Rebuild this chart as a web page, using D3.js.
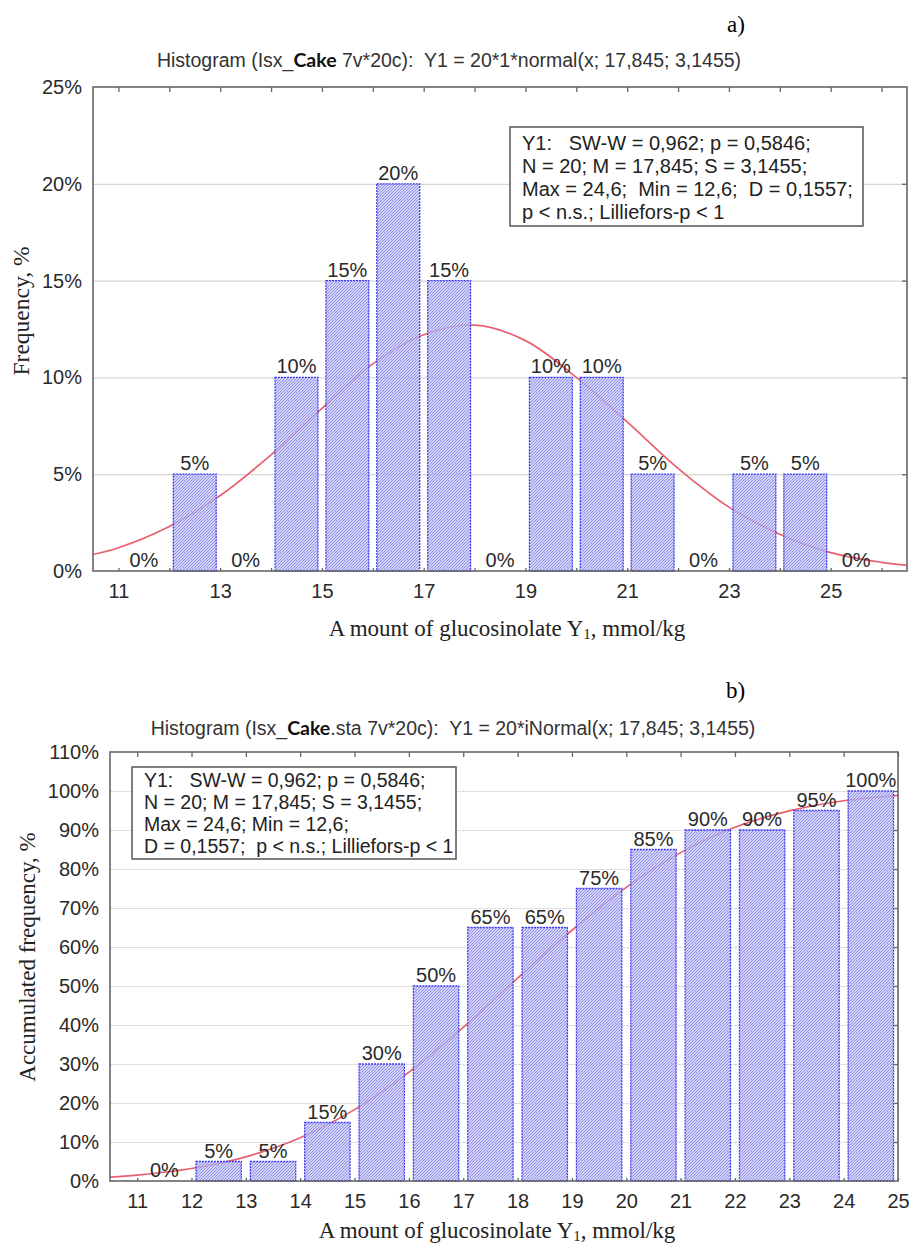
<!DOCTYPE html>
<html>
<head>
<meta charset="utf-8">
<script src="https://cdnjs.cloudflare.com/ajax/libs/d3/7.8.5/d3.min.js"></script>
<style>
body { margin: 0; background: #fff; }
svg { display: block; }
</style>
</head>
<body>
<div id="chart"></div>
<script>
// panel a: frequency per bin
var binStartsA = [11, 12, 13, 14, 15, 16, 17, 18, 19, 20, 21, 22, 23, 24, 25];
var freqA = [0, 5, 0, 10, 15, 20, 15, 0, 10, 10, 5, 0, 5, 5, 0];
var curveXA = [10.5, 11, 12, 13, 14, 15, 16, 17, 18, 19, 20, 21, 22, 23, 24, 25, 26, 26.5];
var curveYA = [0.85, 1.2, 2.3, 3.9, 6.0, 8.4, 10.7, 12.2, 12.7, 11.9, 10.0, 7.7, 5.3, 3.3, 1.9, 0.95, 0.45, 0.3];
var yTicksA = [0, 5, 10, 15, 20, 25];
var xLabelsA = [11, 13, 15, 17, 19, 21, 23, 25];
var xMinorA = [11, 12, 13, 14, 15, 16, 17, 18, 19, 20, 21, 22, 23, 24, 25, 26];
var titleA = ["Histogram (Isx_", "Cake", " 7v*20c):  Y1 = 20*1*normal(x; 17,845; 3,1455)"];
var legendA = ["Y1:   SW-W = 0,962; p = 0,5846;",
               "N = 20; M = 17,845; S = 3,1455;",
               "Max = 24,6;  Min = 12,6;  D = 0,1557;",
               "p < n.s.; Lilliefors-p < 1"];

// panel b: accumulated frequency
var binStartsB = [11, 12, 13, 14, 15, 16, 17, 18, 19, 20, 21, 22, 23, 24];
var cumB = [0, 5, 5, 15, 30, 50, 65, 65, 75, 85, 90, 90, 95, 100];
var curveXB = [10.5, 11, 12, 13, 14, 15, 16, 17, 18, 19, 20, 21, 22, 23, 24, 25];
var curveYB = [1.0, 1.5, 3.2, 6.2, 11.1, 18.3, 27.9, 39.4, 52.0, 64.3, 75.3, 84.2, 90.7, 94.9, 97.5, 98.9];
var yTicksB = [0, 10, 20, 30, 40, 50, 60, 70, 80, 90, 100, 110];
var xLabelsB = [11, 12, 13, 14, 15, 16, 17, 18, 19, 20, 21, 22, 23, 24, 25];
var titleB = ["Histogram (Isx_", "Cake", ".sta 7v*20c):  Y1 = 20*iNormal(x; 17,845; 3,1455)"];
var legendB = ["Y1:   SW-W = 0,962; p = 0,5846;",
               "N = 20; M = 17,845; S = 3,1455;",
               "Max = 24,6; Min = 12,6;",
               "D = 0,1557;  p < n.s.; Lilliefors-p < 1"];

var W = 909, H = 1246;
var sans = "'Liberation Sans', Arial, sans-serif";
var serif = "'Liberation Serif', 'Times New Roman', serif";

var svg = d3.select("#chart").append("svg")
    .attr("width", W)
    .attr("height", H)
    .attr("viewBox", "0 0 " + W + " " + H);

// hatched fill used by all bars (slightly see-through so the curve shows)
var defs = svg.append("defs");
var pat = defs.append("pattern")
    .attr("id", "hatch")
    .attr("patternUnits", "userSpaceOnUse")
    .attr("width", 3)
    .attr("height", 3);
pat.append("rect").attr("width", 3).attr("height", 3)
    .attr("fill", "#c2c2f8").attr("fill-opacity", 0.72);
pat.append("path")
    .attr("d", "M-1,1 L1,-1 M0,3 L3,0 M2,4 L4,2")
    .attr("stroke", "#8a8ae4")
    .attr("stroke-width", 0.9);

function drawPanel(cfg) {
    var x = d3.scaleLinear().domain(cfg.xDomain).range([cfg.left, cfg.right]);
    var y = d3.scaleLinear().domain(cfg.yDomain).range([cfg.bottom, cfg.top]);
    var w = cfg.right - cfg.left;
    var g = svg.append("g").attr("class", "panel");

    var clipId = "clip" + cfg.id;
    defs.append("clipPath").attr("id", clipId)
      .append("rect")
      .attr("x", cfg.left).attr("y", cfg.top)
      .attr("width", w).attr("height", cfg.bottom - cfg.top);

    // grid lines
    var grid = g.append("g")
        .attr("transform", "translate(" + cfg.left + ",0)")
        .call(d3.axisLeft(y).tickValues(cfg.yTicks.slice(1, -1)).tickSize(-w).tickFormat(""));
    grid.select(".domain").remove();
    grid.selectAll("line")
        .attr("stroke", "#d6d6d6")
        .attr("stroke-width", 1.2)
        .attr("stroke-dasharray", cfg.gridDash);

    var bins = cfg.binStarts.map(function(lo, i){ return {lo: lo, v: cfg.values[i]}; });

    // fitted curve, under the bars
    var line = d3.line()
        .x(function(d){ return x(d[0]); })
        .y(function(d){ return y(d[1]); })
        .curve(d3.curveCatmullRom);
    g.append("path")
        .datum(d3.zip(cfg.curveX, cfg.curveY))
        .attr("clip-path", "url(#" + clipId + ")")
        .attr("d", line)
        .attr("fill", "none")
        .attr("stroke", "#e8606e")
        .attr("stroke-width", 1.7);

    // bars
    g.append("g").selectAll("rect")
      .data(bins.filter(function(d){ return d.v > 0; }))
      .join("rect")
        .attr("x", function(d){ return x(d.lo) + cfg.inset; })
        .attr("width", function(d){ return x(d.lo + 1) - x(d.lo) - 2 * cfg.inset; })
        .attr("y", function(d){ return y(d.v); })
        .attr("height", function(d){ return y(0) - y(d.v); })
        .attr("fill", "url(#hatch)")
        .attr("stroke", "#3d3df2")
        .attr("stroke-width", 1.3)
        .attr("stroke-dasharray", "2,1");

    // value labels
    g.append("g").selectAll("text")
      .data(bins)
      .join("text")
        .attr("x", function(d){ return x(d.lo + 0.5); })
        .attr("y", function(d){ return y(d.v) - 4; })
        .attr("text-anchor", "middle")
        .attr("font-family", sans)
        .attr("font-size", cfg.labelSize)
        .attr("fill", "#2a2a2a")
        .text(function(d){ return d.v + "%"; });

    // frame
    g.append("rect")
        .attr("x", cfg.left).attr("y", cfg.top)
        .attr("width", w).attr("height", cfg.bottom - cfg.top)
        .attr("fill", "none")
        .attr("stroke", "#666")
        .attr("stroke-width", 1.6);

    // inner tick marks
    var topT = g.append("g").attr("transform", "translate(0," + cfg.top + ")")
        .call(d3.axisTop(x).tickValues(cfg.xMinor).tickSize(-5).tickFormat(""));
    var botT = g.append("g").attr("transform", "translate(0," + cfg.bottom + ")")
        .call(d3.axisBottom(x).tickValues(cfg.xMinor).tickSize(-3).tickFormat(""));
    var rightT = g.append("g").attr("transform", "translate(" + cfg.right + ",0)")
        .call(d3.axisRight(y).tickValues(cfg.yTicks.slice(1, -1)).tickSize(-5).tickFormat(""));
    [topT, botT, rightT].forEach(function(a){
        a.select(".domain").remove();
        a.selectAll("line").attr("stroke", "#666").attr("stroke-width", 1.3);
    });

    // tick labels
    var yAx = g.append("g").attr("transform", "translate(" + cfg.left + ",0)")
        .call(d3.axisLeft(y).tickValues(cfg.yTicks).tickSize(0).tickPadding(11)
              .tickFormat(function(d){ return d + "%"; }));
    var xAx = g.append("g").attr("transform", "translate(0," + cfg.bottom + ")")
        .call(d3.axisBottom(x).tickValues(cfg.xLabels).tickSize(0).tickPadding(13));
    [yAx, xAx].forEach(function(a){
        a.select(".domain").remove();
        a.attr("font-family", sans).attr("font-size", cfg.tickSize);
        a.selectAll("text").attr("fill", "#2a2a2a");
    });

    // title
    var t = g.append("text")
        .attr("x", cfg.titleX).attr("y", cfg.titleY)
        .attr("text-anchor", "middle")
        .attr("font-family", sans)
        .attr("font-size", 19.5)
        .attr("fill", "#333")
        .style("white-space", "pre");
    t.append("tspan").text(cfg.title[0]);
    t.append("tspan").attr("font-family", "Lato, 'Open Sans', sans-serif")
        .attr("font-weight", 700).attr("fill", "#111").text(cfg.title[1]);
    t.append("tspan").text(cfg.title[2]);

    // panel letter
    g.append("text")
        .attr("x", cfg.letterX).attr("y", cfg.letterY)
        .attr("font-family", serif)
        .attr("font-size", 23)
        .attr("fill", "#000")
        .text(cfg.letter);

    // stats box
    var box = cfg.legendBox;
    g.append("rect")
        .attr("x", box[0]).attr("y", box[1])
        .attr("width", box[2]).attr("height", box[3])
        .attr("fill", "#fff")
        .attr("stroke", "#555")
        .attr("stroke-width", 1.5);
    g.append("g").selectAll("text")
      .data(cfg.legend)
      .join("text")
        .attr("x", box[0] + 12)
        .attr("y", function(d, i){ return box[1] + cfg.legendFirst + i * cfg.legendStep; })
        .attr("font-family", sans)
        .attr("font-size", cfg.legendSize)
        .attr("fill", "#222")
        .style("white-space", "pre")
        .text(function(d){ return d; });

    // axis titles
    var xt = g.append("text")
        .attr("x", cfg.xTitleX).attr("y", cfg.xTitleY)
        .attr("text-anchor", "middle")
        .attr("font-family", serif)
        .attr("font-size", 23)
        .attr("fill", "#222");
    xt.append("tspan").text("A mount of glucosinolate Y");
    xt.append("tspan").attr("font-size", 15).attr("dy", 3).text("1");
    xt.append("tspan").attr("dy", -3).text(", mmol/kg");

    g.append("text")
        .attr("transform", "translate(" + cfg.yTitleX + "," + cfg.yTitleY + ") rotate(-90)")
        .attr("text-anchor", "middle")
        .attr("font-family", serif)
        .attr("font-size", cfg.yTitleSize)
        .attr("fill", "#222")
        .text(cfg.yTitle);
}

drawPanel({
    id: "a",
    left: 93, right: 907, top: 87, bottom: 571,
    xDomain: [10.5, 26.5], yDomain: [0, 25],
    binStarts: binStartsA, values: freqA,
    curveX: curveXA, curveY: curveYA,
    yTicks: yTicksA, xLabels: xLabelsA, xMinor: xMinorA,
    inset: 4, gridDash: null, labelSize: 20, tickSize: 20,
    title: titleA, titleX: 449, titleY: 67,
    letter: "a)", letterX: 727, letterY: 32,
    legend: legendA, legendBox: [510, 127, 353, 99], legendFirst: 23, legendStep: 23, legendSize: 20,
    xTitleX: 507, xTitleY: 636,
    yTitle: "Frequency, %", yTitleX: 29, yTitleY: 311, yTitleSize: 23.5
});

drawPanel({
    id: "b",
    left: 110, right: 898, top: 752, bottom: 1181,
    xDomain: [10.5, 25], yDomain: [0, 110],
    binStarts: binStartsB, values: cumB,
    curveX: curveXB, curveY: curveYB,
    yTicks: yTicksB, xLabels: xLabelsB, xMinor: xLabelsB,
    inset: 4.5, gridDash: "3,1", labelSize: 20, tickSize: 20,
    title: titleB, titleX: 453, titleY: 735,
    letter: "b)", letterX: 726, letterY: 698,
    legend: legendB, legendBox: [132, 767, 324, 92], legendFirst: 20, legendStep: 22, legendSize: 19.5,
    xTitleX: 497, xTitleY: 1238,
    yTitle: "Accumulated frequency, %", yTitleX: 35, yTitleY: 957, yTitleSize: 23
});
</script>
</body>
</html>
